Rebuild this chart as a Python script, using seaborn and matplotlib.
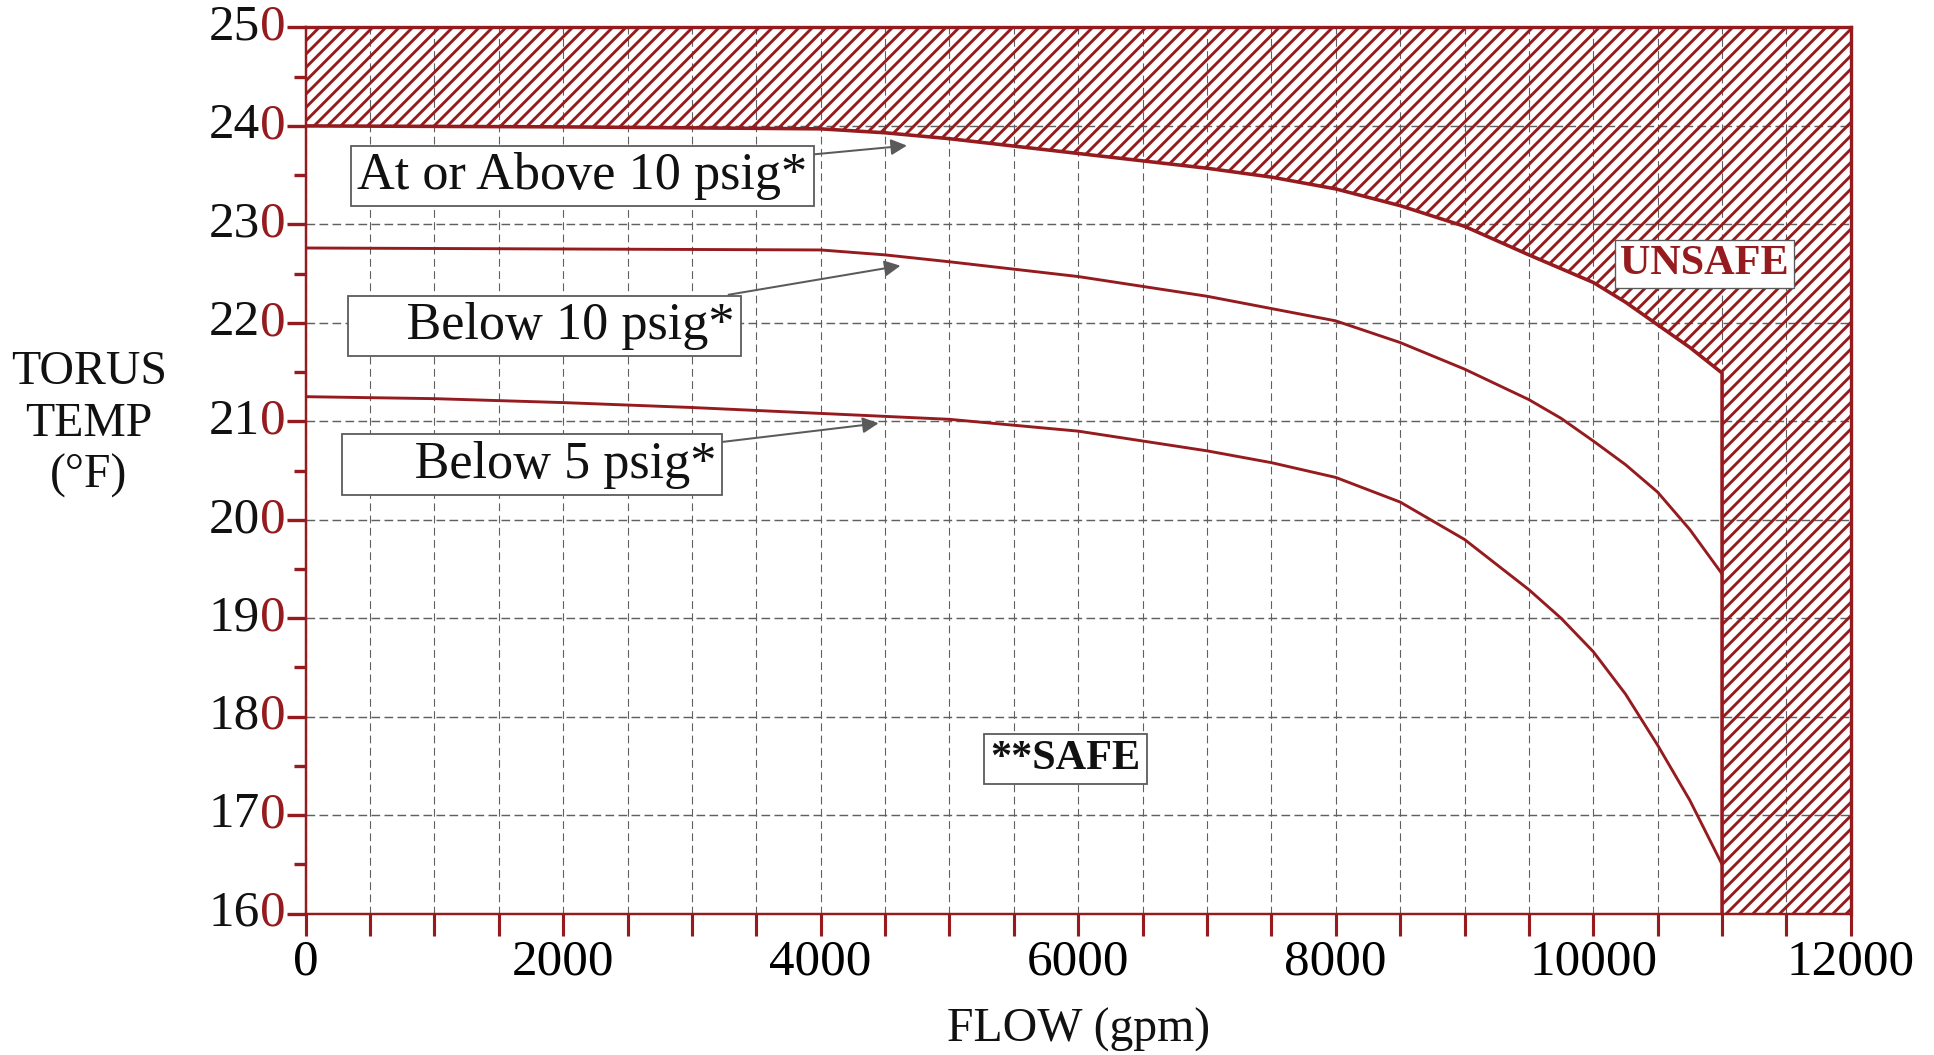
import matplotlib
matplotlib.use('Agg')  # no display
import matplotlib.pyplot as plt
from matplotlib.ticker import MultipleLocator
import seaborn as sns
import pandas as pd

RED = '#951b1e'
GRID = '#606060'
BOXEDGE = '#5a5a5a'

# limit curve: "At or Above 10 psig" (upper edge of the safe region)
flow_limit = [0, 2000, 4000, 4500, 5000, 6000, 7000, 7500, 8000, 8500,
              9000, 9500, 10000, 10250, 10500, 10750, 11000]
temp_limit = [240.0, 239.9, 239.7, 239.3, 238.7, 237.2, 235.7, 234.8, 233.6, 231.9,
              229.8, 226.9, 224.1, 222.1, 219.8, 217.5, 214.9]

# "Below 10 psig"
flow_mid = [0, 2000, 4000, 4500, 5000, 6000, 7000, 8000, 8500, 9000,
            9500, 9750, 10000, 10250, 10500, 10750, 11000]
temp_mid = [227.6, 227.5, 227.4, 226.9, 226.2, 224.7, 222.7, 220.2, 218.0, 215.3,
            212.2, 210.3, 208.0, 205.6, 202.8, 199.0, 194.5]

# "Below 5 psig"
flow_low = [0, 1000, 2000, 3000, 4000, 5000, 6000, 7000, 7500, 8000, 8500,
            9000, 9500, 9750, 10000, 10250, 10500, 10750, 11000]
temp_low = [212.5, 212.3, 211.9, 211.4, 210.8, 210.2, 209.0, 207.0, 205.8, 204.3, 201.8,
            198.0, 192.9, 190.0, 186.6, 182.3, 177.1, 171.5, 165.0]

x_ticks = [0, 2000, 4000, 6000, 8000, 10000, 12000]
y_ticks = [160, 170, 180, 190, 200, 210, 220, 230, 240, 250]

# text boxes: (text, box centre, arrow tip)
labels = [
    ("At or Above 10 psig*", (2150, 234.9), (4670, 238.0)),
    ("    Below 10 psig*", (1855, 219.7), (4620, 225.8)),
    ("     Below 5 psig*", (1760, 205.6), (4450, 209.8)),
]

sns.set_theme(style="white")
plt.rcParams['font.family'] = ['Liberation Serif', 'DejaVu Serif']
plt.rcParams['hatch.color'] = RED
plt.rcParams['hatch.linewidth'] = 2.6

DPI = 80
fig = plt.figure(figsize=(1934 / DPI, 1055 / DPI), dpi=DPI)
ax = fig.add_axes([0.158, 0.134, 0.799, 0.840])

# unsafe region: above the limit curve and beyond 11000 gpm
x_fill = flow_limit + [flow_limit[-1], 12000]
y_fill = temp_limit + [160, 160]
ax.fill_between(x_fill, y_fill, 250, facecolor='none', edgecolor=RED,
                hatch='//', linewidth=0, zorder=2)

df_edge = pd.DataFrame({'flow': x_fill[:-1], 'temp': y_fill[:-1]})
sns.lineplot(data=df_edge, x='flow', y='temp', sort=False, estimator=None,
             color=RED, linewidth=3.2, ax=ax, zorder=4)

df_mid = pd.DataFrame({'flow': flow_mid, 'temp': temp_mid})
df_low = pd.DataFrame({'flow': flow_low, 'temp': temp_low})
sns.lineplot(data=df_mid, x='flow', y='temp', color=RED, linewidth=2.6, ax=ax, zorder=4)
sns.lineplot(data=df_low, x='flow', y='temp', color=RED, linewidth=2.6, ax=ax, zorder=4)

ax.set_xlim(0, 12000)
ax.set_ylim(160, 250)

# grid
ax.xaxis.set_major_locator(MultipleLocator(2000))
ax.xaxis.set_minor_locator(MultipleLocator(500))
ax.yaxis.set_major_locator(MultipleLocator(10))
ax.yaxis.set_minor_locator(MultipleLocator(5))
ax.grid(True, which='both', axis='x', color=GRID, linestyle=(0, (7, 4)), linewidth=1.0, zorder=1)
ax.grid(True, which='major', axis='y', color=GRID, linestyle=(0, (6, 3)), linewidth=1.3, zorder=1)
ax.set_axisbelow(True)

for side in ['left', 'bottom']:
    ax.spines[side].set_color(RED)
    ax.spines[side].set_linewidth(2.2)
for side in ['top', 'right']:
    ax.spines[side].set_color(RED)
    ax.spines[side].set_linewidth(3.0)

ax.tick_params(axis='x', which='both', direction='out', length=20, width=2.8,
               color=RED, labelsize=46, labelcolor='black', pad=3, bottom=True)
ax.tick_params(axis='y', which='major', direction='out', length=17, width=3.0,
               color=RED, left=True, labelleft=False)
ax.tick_params(axis='y', which='minor', direction='out', length=11, width=3.0,
               color=RED, left=True)
ax.set_xticks(x_ticks)
ax.set_xticklabels([str(v) for v in x_ticks])

# y tick labels: last digit drawn in red next to the tick
fs = 46
for v in y_ticks:
    ax.annotate("0", xy=(0, v), xycoords=('axes fraction', 'data'),
                xytext=(-18, 0), textcoords='offset points',
                ha='right', va='center', fontsize=fs, color=RED)
    ax.annotate(str(v)[:-1], xy=(0, v), xycoords=('axes fraction', 'data'),
                xytext=(-18 - 0.5 * fs, 0), textcoords='offset points',
                ha='right', va='center', fontsize=fs, color='#111111')

ax.set_xlabel("FLOW (gpm)", fontsize=43, color='#111111', labelpad=20)
ax.set_ylabel("")
fig.text(0.046, 0.598, "TORUS\nTEMP\n(°F)", ha='center', va='center',
         multialignment='center', fontsize=43, linespacing=1.22, color='#111111')

for text, pos, tip in labels:
    ax.annotate(text, xy=tip, xytext=pos, ha='center', va='center',
                fontsize=47, color='#111111', zorder=6,
                bbox=dict(boxstyle='square,pad=0.12', fc='white', ec=BOXEDGE, lw=1.6),
                arrowprops=dict(arrowstyle='-|>', color=BOXEDGE, lw=1.8,
                                mutation_scale=30, shrinkA=0, shrinkB=0))

ax.text(5900, 175.7, "**SAFE", ha='center', va='center', fontsize=38,
        fontweight='bold', color='#111111', zorder=6,
        bbox=dict(boxstyle='square,pad=0.15', fc='white', ec=BOXEDGE, lw=1.6))
ax.text(10865, 226.0, "UNSAFE", ha='center', va='center', fontsize=38,
        fontweight='bold', color=RED, zorder=6,
        bbox=dict(boxstyle='square,pad=0.12', fc='white', ec=BOXEDGE, lw=1.2))

fig.savefig('out.png', dpi=DPI)
plt.close(fig)
